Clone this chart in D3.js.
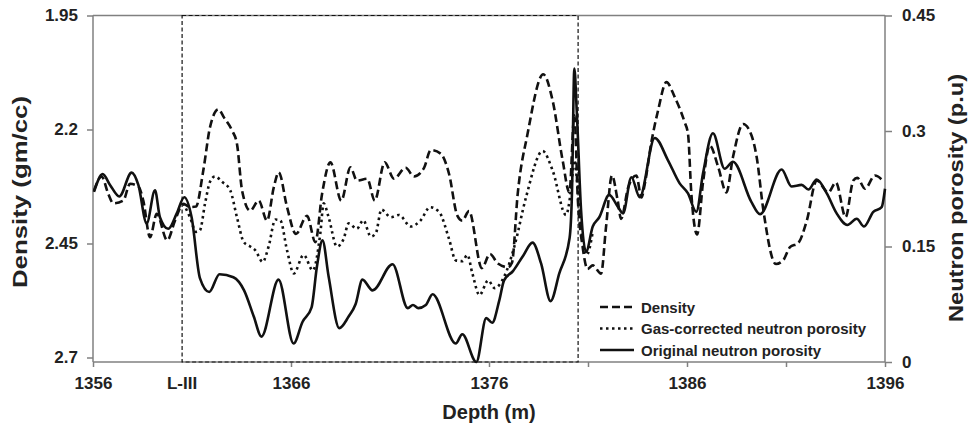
<!DOCTYPE html>
<html>
<head>
<meta charset="utf-8">
<script src="https://cdn.jsdelivr.net/npm/d3@7"></script>
<style>
  html, body { margin: 0; padding: 0; background: #fff; }
  svg { display: block; font-family: "Liberation Sans", Arial, sans-serif; }
</style>
</head>
<body>
<svg id="chart" width="968" height="429"></svg>
<script>
// Bulk density log (gm/cc) against depth (m)
const densityDepth = [1356.05,1356.44,1356.77,1357.03,1357.53,1357.87,1358.29,1358.54,1358.88,1359.22,1359.75,1360.14,1360.56,1360.90,1361.20,1361.57,1361.91,1362.33,1362.62,1363.02,1363.27,1363.53,1363.94,1364.37,1364.79,1365.13,1365.38,1365.80,1366.25,1366.81,1367.23,1367.57,1367.99,1368.54,1369.00,1369.33,1369.85,1370.23,1370.73,1371.20,1371.79,1372.21,1372.72,1373.06,1373.56,1373.98,1374.40,1374.65,1374.99,1375.64,1376.05,1376.45,1376.96,1377.16,1377.45,1377.95,1378.74,1379.21,1379.72,1380.06,1380.31,1380.49,1380.73,1380.98,1381.24,1381.66,1381.91,1382.21,1382.50,1382.67,1383.03,1383.44,1383.70,1383.87,1384.20,1384.54,1384.96,1385.38,1385.88,1386.05,1386.22,1386.51,1386.82,1387.15,1387.58,1387.99,1388.32,1388.83,1389.26,1389.52,1389.86,1390.49,1390.87,1391.20,1391.62,1392.05,1392.55,1393.14,1393.52,1394.01,1394.40,1394.60,1394.99,1395.49,1395.91];
const densityValues = [2.334,2.303,2.341,2.362,2.356,2.319,2.325,2.356,2.436,2.385,2.443,2.400,2.363,2.370,2.369,2.290,2.195,2.156,2.174,2.202,2.231,2.334,2.378,2.356,2.400,2.327,2.294,2.370,2.429,2.389,2.447,2.341,2.272,2.356,2.283,2.312,2.308,2.356,2.272,2.308,2.284,2.303,2.284,2.245,2.253,2.297,2.389,2.400,2.379,2.504,2.473,2.494,2.502,2.492,2.341,2.209,2.079,2.136,2.268,2.338,2.169,2.356,2.458,2.506,2.498,2.516,2.414,2.301,2.356,2.396,2.327,2.301,2.349,2.319,2.228,2.158,2.096,2.129,2.184,2.209,2.341,2.430,2.312,2.235,2.283,2.338,2.261,2.188,2.213,2.261,2.378,2.495,2.486,2.458,2.449,2.400,2.312,2.338,2.316,2.392,2.312,2.306,2.330,2.301,2.313];

// Gas-corrected neutron porosity (p.u) through the L-III interval
const gasDepth = [1360.56,1360.90,1361.20,1361.40,1361.66,1361.91,1362.16,1362.52,1362.93,1363.27,1363.61,1363.94,1364.20,1364.57,1364.87,1365.21,1365.46,1365.80,1366.14,1366.64,1367.10,1367.48,1367.65,1367.90,1368.32,1368.66,1368.91,1369.33,1369.65,1370.03,1370.28,1370.57,1371.04,1371.45,1372.05,1372.55,1373.02,1373.48,1373.98,1374.32,1374.65,1374.91,1375.16,1375.52,1375.96,1376.28,1376.77,1377.28,1377.87,1378.71,1379.21,1379.89,1380.14,1380.31,1380.49,1380.69,1380.93,1381.24];
const gasPorosity = [0.206,0.188,0.169,0.171,0.206,0.234,0.241,0.234,0.223,0.188,0.156,0.150,0.145,0.130,0.150,0.185,0.184,0.145,0.115,0.139,0.119,0.167,0.206,0.188,0.150,0.160,0.180,0.173,0.184,0.163,0.167,0.198,0.188,0.191,0.176,0.184,0.201,0.195,0.160,0.132,0.131,0.139,0.115,0.087,0.106,0.096,0.111,0.150,0.214,0.274,0.249,0.191,0.223,0.262,0.223,0.165,0.139,0.169];

// Original (uncorrected) neutron porosity (p.u)
const neutronDepth = [1356.05,1356.49,1356.86,1357.33,1357.95,1358.29,1358.71,1359.13,1359.38,1359.80,1360.23,1360.61,1360.98,1361.40,1361.87,1362.39,1363.09,1363.63,1364.12,1364.51,1365.37,1366.13,1366.58,1367.04,1367.31,1367.59,1367.90,1368.44,1368.91,1369.26,1369.61,1370.12,1371.13,1371.90,1372.16,1372.43,1372.81,1373.15,1374.32,1374.65,1375.36,1375.86,1376.16,1376.52,1376.76,1377.21,1377.70,1378.20,1378.63,1379.11,1379.55,1380.07,1380.19,1380.31,1380.43,1380.65,1380.90,1381.24,1381.57,1382.07,1382.52,1382.77,1383.19,1383.61,1384.37,1385.04,1385.63,1386.05,1386.47,1386.81,1387.31,1387.90,1388.32,1389.25,1389.69,1390.78,1391.28,1391.79,1392.13,1392.55,1393.06,1393.56,1394.10,1394.57,1394.94,1395.41,1395.83,1396.00];
const neutronPorosity = [0.221,0.244,0.230,0.215,0.246,0.230,0.180,0.223,0.188,0.173,0.193,0.214,0.188,0.109,0.091,0.114,0.110,0.093,0.059,0.033,0.107,0.024,0.052,0.071,0.124,0.158,0.111,0.044,0.059,0.075,0.107,0.093,0.127,0.070,0.074,0.070,0.074,0.088,0.024,0.036,0.000,0.057,0.051,0.080,0.106,0.118,0.137,0.155,0.128,0.079,0.115,0.161,0.219,0.381,0.327,0.197,0.143,0.176,0.188,0.217,0.201,0.193,0.240,0.214,0.291,0.262,0.232,0.219,0.195,0.245,0.297,0.251,0.260,0.208,0.192,0.250,0.228,0.230,0.224,0.237,0.219,0.193,0.178,0.186,0.176,0.195,0.201,0.225];

// Axis ticks and labels
const depthTicks = [1356, 1366, 1376, 1381, 1386, 1391, 1396];
const depthLabels = [1356, 1366, 1376, 1386, 1396];
const densityTicks = [1.95, 2.2, 2.45, 2.7];
const porosityTicks = [0, 0.15, 0.3, 0.45];
const zoneName = "L-III";
const zoneTop = 1360.5;
const zoneBase = 1380.5;
const seriesNames = ["Density", "Gas-corrected neutron porosity", "Original neutron porosity"];

const svg = d3.select("#chart");
const plotL = 93, plotR = 885, plotT = 15.5, plotB = 362;

const x = d3.scaleLinear().domain([1356, 1396]).range([plotL, plotR]);
const yD = d3.scaleLinear().domain([1.95, 2.7]).range([plotT, 357.5]);
const yP = d3.scaleLinear().domain([0, 0.45]).range([plotB, plotT]);

const axisColor = "#808080";
const labelFont = 17;

// Plot frame: top border
svg.append("line")
  .attr("x1", plotL).attr("x2", plotR).attr("y1", plotT).attr("y2", plotT)
  .attr("stroke", axisColor).attr("stroke-width", 1.5);

// Left axis (density)
const gL = svg.append("g").attr("transform", `translate(${plotL},0)`)
  .call(d3.axisLeft(yD).tickValues(densityTicks).tickFormat(d => String(d)).tickSize(6).tickPadding(9));
gL.select(".domain").remove();
gL.append("line").attr("x1", 0).attr("x2", 0).attr("y1", plotT).attr("y2", plotB)
  .attr("stroke", axisColor).attr("stroke-width", 1.5);

// Right axis (neutron porosity)
const gR = svg.append("g").attr("transform", `translate(${plotR},0)`)
  .call(d3.axisRight(yP).tickValues(porosityTicks).tickFormat(d => String(d)).tickSize(7).tickPadding(10));
gR.select(".domain").remove();
gR.append("line").attr("x1", 0).attr("x2", 0).attr("y1", plotT).attr("y2", plotB)
  .attr("stroke", axisColor).attr("stroke-width", 1.5);

// Bottom axis (depth)
const gB = svg.append("g").attr("transform", `translate(0,${plotB})`)
  .call(d3.axisBottom(x).tickValues(depthTicks)
    .tickFormat(d => depthLabels.includes(d) ? String(d) : "").tickSize(5).tickPadding(10));
gB.select(".domain").remove();
gB.append("line").attr("x1", plotL).attr("x2", plotR).attr("y1", 0).attr("y2", 0)
  .attr("stroke", axisColor).attr("stroke-width", 1.5);

[gL, gR, gB].forEach(g => {
  g.selectAll(".tick line").attr("stroke", axisColor).attr("stroke-width", 1.5);
  g.selectAll(".tick text")
    .attr("fill", "#222").attr("font-size", labelFont).attr("font-weight", "bold")
    .attr("font-family", "'Liberation Sans', Arial, sans-serif");
});

// Zone label under the interval top
svg.append("text")
  .attr("x", x(zoneTop)).attr("y", plotB + 27)
  .attr("text-anchor", "middle").attr("font-size", labelFont).attr("font-weight", "bold")
  .attr("fill", "#222").text(zoneName);

// Dashed outline of the L-III interval
svg.append("rect")
  .attr("x", x(zoneTop)).attr("y", plotT)
  .attr("width", x(zoneBase) - x(zoneTop)).attr("height", plotB - plotT)
  .attr("fill", "none").attr("stroke", "#111").attr("stroke-width", 1.2)
  .attr("stroke-dasharray", "4,2.5");

// Axis titles
svg.append("text")
  .attr("x", (plotL + plotR) / 2).attr("y", 419)
  .attr("text-anchor", "middle").attr("font-size", 20).attr("font-weight", "bold")
  .attr("fill", "#222").text("Depth (m)");

svg.append("text")
  .attr("transform", "translate(27,192) rotate(-90)")
  .attr("text-anchor", "middle").attr("font-size", 20).attr("font-weight", "bold")
  .attr("textLength", 192).attr("lengthAdjust", "spacingAndGlyphs")
  .attr("fill", "#222").text("Density (gm/cc)");

svg.append("text")
  .attr("transform", "translate(963,198) rotate(-90)")
  .attr("text-anchor", "middle").attr("font-size", 20).attr("font-weight", "bold")
  .attr("textLength", 248).attr("lengthAdjust", "spacingAndGlyphs")
  .attr("fill", "#222").text("Neutron porosity (p.u)");

// Log curves
const lineD = d3.line().x(d => x(d[0])).y(d => yD(d[1])).curve(d3.curveMonotoneX);
const lineP = d3.line().x(d => x(d[0])).y(d => yP(d[1])).curve(d3.curveMonotoneX);

const styles = [
  { dash: "8,4" },
  { dash: "2.5,3.5" },
  { dash: null }
];

svg.append("path")
  .datum(d3.zip(gasDepth, gasPorosity))
  .attr("d", lineP).attr("fill", "none").attr("stroke", "#111").attr("stroke-width", 2.6)
  .attr("stroke-dasharray", styles[1].dash);

svg.append("path")
  .datum(d3.zip(densityDepth, densityValues))
  .attr("d", lineD).attr("fill", "none").attr("stroke", "#111").attr("stroke-width", 2.6)
  .attr("stroke-dasharray", styles[0].dash);

svg.append("path")
  .datum(d3.zip(neutronDepth, neutronPorosity))
  .attr("d", lineP).attr("fill", "none").attr("stroke", "#111").attr("stroke-width", 2.6)
  .attr("stroke-linejoin", "round");

// Legend
const legend = svg.append("g").attr("transform", "translate(600,307)");
seriesNames.forEach((name, i) => {
  const row = legend.append("g").attr("transform", `translate(0,${i * 21.5})`);
  row.append("line").attr("x1", 0).attr("x2", 34).attr("y1", 0).attr("y2", 0)
    .attr("stroke", "#111").attr("stroke-width", 2.6)
    .attr("stroke-dasharray", styles[i].dash);
  row.append("text").attr("x", 41).attr("y", 5.5)
    .attr("font-size", 15).attr("font-weight", "bold").attr("fill", "#222").text(name);
});
</script>
</body>
</html>
